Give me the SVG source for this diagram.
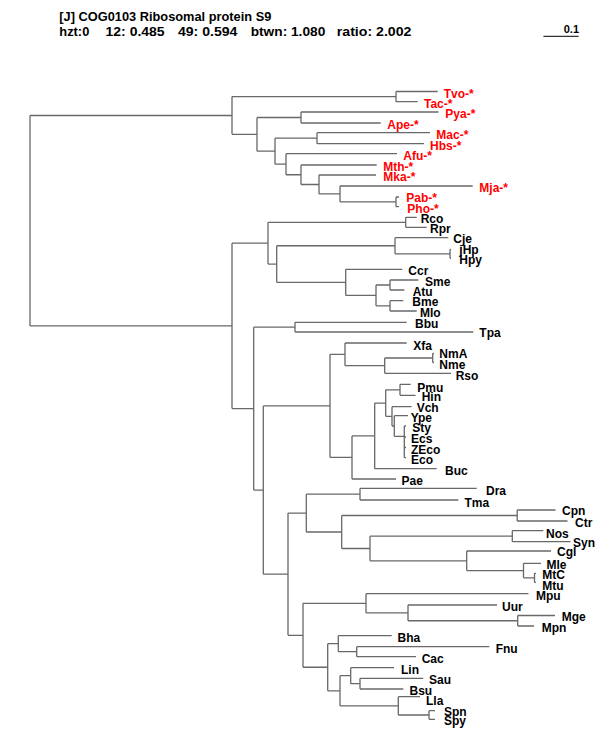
<svg xmlns="http://www.w3.org/2000/svg" width="600" height="750" viewBox="0 0 600 750">
<style>
.br{fill:none;stroke:#686868;stroke-width:1.3}
.lf{font-family:"Liberation Sans",Arial,Helvetica,sans-serif;font-size:12px;font-weight:bold;fill:#000}
.ar{fill:#ff0000}
.hd{font-family:"Liberation Sans",Arial,Helvetica,sans-serif;font-size:13px;font-weight:bold;fill:#000}
</style>
<rect width="600" height="750" fill="#fff"/>
<g id="header">
<text class="hd" x="59.3" y="21" textLength="212" lengthAdjust="spacingAndGlyphs">[J] COG0103 Ribosomal protein S9</text>
<text class="hd" x="59.3" y="36" textLength="30" lengthAdjust="spacingAndGlyphs">hzt:0</text>
<text class="hd" x="105.6" y="36" textLength="59" lengthAdjust="spacingAndGlyphs">12: 0.485</text>
<text class="hd" x="178" y="36" textLength="59.3" lengthAdjust="spacingAndGlyphs">49: 0.594</text>
<text class="hd" x="250.7" y="36" textLength="74.6" lengthAdjust="spacingAndGlyphs">btwn: 1.080</text>
<text class="hd" x="336.8" y="36" textLength="74.6" lengthAdjust="spacingAndGlyphs">ratio: 2.002</text>
</g>
<g id="scale">
<line x1="543.4" y1="36.4" x2="578.6" y2="36.4" stroke="#333" stroke-width="1.2"/>
<text x="579" y="32.5" text-anchor="end" style="font-family:'Liberation Sans',Arial,sans-serif;font-size:11px;font-weight:bold">0.1</text>
</g>
<g id="connectors" class="br">
<path d="M30 115.5V325.9M30 115.5H232M30 325.9H232"/>
<path d="M232 96.6V134.35M232 96.6H396M232 134.35H257"/>
<path d="M396 91.5V101.7M396 91.5H437.7M396 101.7H417.7"/>
<path d="M257 117.5V151.2M257 117.5H301M257 151.2H275"/>
<path d="M301 112V123M301 112H438.5M301 123H380.7"/>
<path d="M275 138.2V164.2M275 138.2H317M275 164.2H286"/>
<path d="M317 132.7V143.7M317 132.7H430M317 143.7H424"/>
<path d="M286 153.7V174.75M286 153.7H397M286 174.75H301"/>
<path d="M301 165V184.5M301 165H376.7M301 184.5H319"/>
<path d="M319 175V193.9M319 175H376M319 193.9H340"/>
<path d="M340 186V201.85M340 186H472.7M340 201.85H396"/>
<path d="M396 197V206.7M396 197H399M396 206.7H399"/>
<path d="M232 243.2V408.6M232 243.2H268M232 408.6H253.7"/>
<path d="M268 222.3V264.05M268 222.3H405.7M268 264.05H276.7"/>
<path d="M405.7 217.3V227.3M405.7 217.3H416.7M405.7 227.3H426.7"/>
<path d="M276.7 245.75V282.35M276.7 245.75H395M276.7 282.35H345.7"/>
<path d="M395 237.7V253.8M395 237.7H448.3M395 253.8H450"/>
<path d="M450 249.3V258.3M450 249.3H451M450 258.3H451"/>
<path d="M345.7 269.3V295.4M345.7 269.3H402.3M345.7 295.4H376"/>
<path d="M376 285V305.85M376 285H390M376 305.85H390"/>
<path d="M390 280V290M390 280H418.3M390 290H404.3"/>
<path d="M390 300.7V311M390 300.7H403.3M390 311H416.7"/>
<path d="M253.7 327.15V490.05M253.7 327.15H295M253.7 490.05H263.3"/>
<path d="M295 322.3V332M295 322.3H406.7M295 332H473.3"/>
<path d="M263.3 405.9V574.2M263.3 405.9H330M263.3 574.2H288"/>
<path d="M330 354.3V457.45M330 354.3H345M330 457.45H352"/>
<path d="M345 343V365.65M345 343H406.7M345 365.65H384.7"/>
<path d="M384.7 358V373.3M384.7 358H432.7M384.7 373.3H451"/>
<path d="M432.7 353.5V362.5M432.7 353.5H434M432.7 362.5H434"/>
<path d="M352 435.9V479M352 435.9H374.7M352 479H396"/>
<path d="M374.7 403.1V468.7M374.7 403.1H385.7M374.7 468.7H436.7"/>
<path d="M385.7 389.8V416.35M385.7 389.8H400M385.7 416.35H392"/>
<path d="M400 384.3V395.3M400 384.3H410.7M400 395.3H415.5"/>
<path d="M392 406.7V426M392 406.7H411.5M392 426H394.3"/>
<path d="M394.3 415.7V436.3M394.3 415.7H408M394.3 436.3H404.3"/>
<path d="M404.3 426V457.7M404.3 426H406M404.3 437H406M404.3 447.5H406M404.3 457.7H406"/>
<path d="M288 513.1V635.3M288 513.1H306.3M288 635.3H303"/>
<path d="M306.3 494.15V532M306.3 494.15H360M306.3 532H341.7"/>
<path d="M360 488.3V500M360 488.3H476.7M360 500H458.3"/>
<path d="M341.7 515.5V548.5M341.7 515.5H517.2M341.7 548.5H370"/>
<path d="M517.2 510V521M517.2 510H555.5M517.2 521H567.5"/>
<path d="M370 536.2V560.8M370 536.2H512.3M370 560.8H466.7"/>
<path d="M512.3 530.7V541.7M512.3 530.7H543.3M512.3 541.7H570.5"/>
<path d="M466.7 551V570.55M466.7 551H551M466.7 570.55H523.5"/>
<path d="M523.5 563.3V577.8M523.5 563.3H541M523.5 577.8H534.5"/>
<path d="M534.5 573.3V582.3M534.5 573.3H536M534.5 582.3H536"/>
<path d="M303 603.3V667.25M303 603.3H366M303 667.25H327.7"/>
<path d="M366 593.7V612.9M366 593.7H528.5M366 612.9H408"/>
<path d="M408 605V620.75M408 605H497M408 620.75H517.7"/>
<path d="M517.7 615.5V626M517.7 615.5H555M517.7 626H534"/>
<path d="M327.7 643.7V690.8M327.7 643.7H338.3M327.7 690.8H340"/>
<path d="M338.3 635.7V651.7M338.3 635.7H391.7M338.3 651.7H356.7"/>
<path d="M356.7 646.7V656.7M356.7 646.7H489.3M356.7 656.7H416"/>
<path d="M340 675.7V705.85M340 675.7H350.7M340 705.85H398.3"/>
<path d="M350.7 667.7V683.65M350.7 667.7H394M350.7 683.65H360"/>
<path d="M360 678.3V689M360 678.3H423.3M360 689H403.3"/>
<path d="M398.3 696.7V715M398.3 696.7H420M398.3 715H429"/>
<path d="M429 710.7V719.3M429 710.7H435M429 719.3H435"/>
</g>
<g id="leaves" class="lf">
<g id="Tvo"><text class="ar" x="443.7" y="97.5">Tvo-*</text></g>
<g id="Tac"><text class="ar" x="424" y="108">Tac-*</text></g>
<g id="Pya"><text class="ar" x="445.3" y="118">Pya-*</text></g>
<g id="Ape"><text class="ar" x="387.3" y="128.5">Ape-*</text></g>
<g id="Mac"><text class="ar" x="436.3" y="138.7">Mac-*</text></g>
<g id="Hbs"><text class="ar" x="430" y="150">Hbs-*</text></g>
<g id="Afu"><text class="ar" x="403.3" y="160">Afu-*</text></g>
<g id="Mth"><text class="ar" x="383.3" y="171">Mth-*</text></g>
<g id="Mka"><text class="ar" x="383.3" y="180.7">Mka-*</text></g>
<g id="Mja"><text class="ar" x="479.3" y="191.7">Mja-*</text></g>
<g id="Pab"><text class="ar" x="406.3" y="201.7">Pab-*</text></g>
<g id="Pho"><text class="ar" x="407.3" y="212.7">Pho-*</text></g>
<g id="Rco"><text x="420.7" y="223.3">Rco</text></g>
<g id="Rpr"><text x="430" y="233">Rpr</text></g>
<g id="Cje"><text x="453.3" y="243.3">Cje</text></g>
<g id="jHp"><text x="459.3" y="254">jHp</text></g>
<g id="Hpy"><text x="459.3" y="264">Hpy</text></g>
<g id="Ccr"><text x="408.3" y="275">Ccr</text></g>
<g id="Sme"><text x="425" y="285.7">Sme</text></g>
<g id="Atu"><text x="412.7" y="295.7">Atu</text></g>
<g id="Bme"><text x="412.3" y="306">Bme</text></g>
<g id="Mlo"><text x="420" y="316.7">Mlo</text></g>
<g id="Bbu"><text x="415" y="328.3">Bbu</text></g>
<g id="Tpa"><text x="479.3" y="337">Tpa</text></g>
<g id="Xfa"><text x="413.3" y="349.5">Xfa</text></g>
<g id="NmA"><text x="439.3" y="358.3">NmA</text></g>
<g id="Nme"><text x="439.3" y="369.3">Nme</text></g>
<g id="Rso"><text x="455.7" y="380">Rso</text></g>
<g id="Pmu"><text x="417.3" y="391.7">Pmu</text></g>
<g id="Hin"><text x="421.7" y="400.7">Hin</text></g>
<g id="Vch"><text x="416.7" y="412.3">Vch</text></g>
<g id="Ype"><text x="410.7" y="421.7">Ype</text></g>
<g id="Sty"><text x="412.3" y="431.7">Sty</text></g>
<g id="Ecs"><text x="411" y="443.3">Ecs</text></g>
<g id="ZEco"><text x="411" y="454">ZEco</text></g>
<g id="Eco"><text x="411" y="464.3">Eco</text></g>
<g id="Buc"><text x="445" y="475">Buc</text></g>
<g id="Pae"><text x="401.5" y="485">Pae</text></g>
<g id="Dra"><text x="486" y="495">Dra</text></g>
<g id="Tma"><text x="464.5" y="506.7">Tma</text></g>
<g id="Cpn"><text x="562" y="515">Cpn</text></g>
<g id="Ctr"><text x="575" y="526.5">Ctr</text></g>
<g id="Nos"><text x="546" y="537.7">Nos</text></g>
<g id="Syn"><text x="573" y="546.5">Syn</text></g>
<g id="Cgl"><text x="557" y="556.3">Cgl</text></g>
<g id="Mle"><text x="546.5" y="569">Mle</text></g>
<g id="MtC"><text x="542.3" y="578.8">MtC</text></g>
<g id="Mtu"><text x="542.3" y="590">Mtu</text></g>
<g id="Mpu"><text x="536" y="599.5">Mpu</text></g>
<g id="Uur"><text x="502" y="610.5">Uur</text></g>
<g id="Mge"><text x="561.7" y="621">Mge</text></g>
<g id="Mpn"><text x="541.7" y="632">Mpn</text></g>
<g id="Bha"><text x="397.5" y="642.3">Bha</text></g>
<g id="Fnu"><text x="495.7" y="653.3">Fnu</text></g>
<g id="Cac"><text x="421.7" y="662.7">Cac</text></g>
<g id="Lin"><text x="401" y="674.3">Lin</text></g>
<g id="Sau"><text x="429" y="684.3">Sau</text></g>
<g id="Bsu"><text x="409.5" y="694.5">Bsu</text></g>
<g id="Lla"><text x="426" y="705">Lla</text></g>
<g id="Spn"><text x="444" y="716">Spn</text></g>
<g id="Spy"><text x="444" y="725.3">Spy</text></g>
</g>
</svg>
